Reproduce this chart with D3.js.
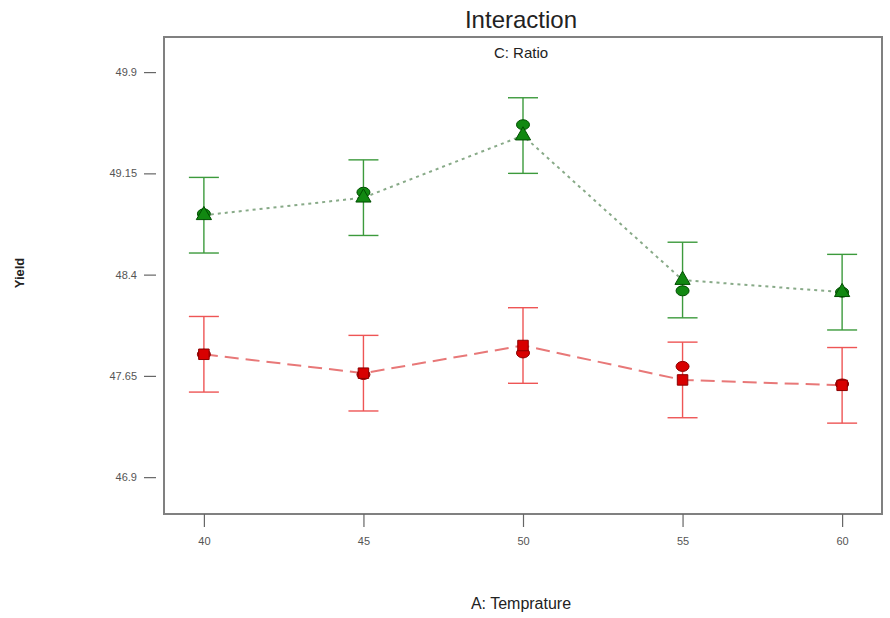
<!DOCTYPE html>
<html>
<head>
<meta charset="utf-8">
<script src="https://cdn.jsdelivr.net/npm/d3@7"></script>
<style>
  body { margin: 0; background: #fff; }
  svg { display: block; font-family: "Liberation Sans", Arial, sans-serif; }
</style>
</head>
<body>
<div id="chart"></div>
<script>
// Interaction plot — Yield vs A: Temprature, two levels of C: Ratio
const temps = [40, 45, 50, 55, 60];
const yTicks = [46.9, 47.65, 48.4, 49.15, 49.9];

// high ratio (green, triangles + dotted line)
const greenPred = [48.84, 48.97, 49.43, 48.36, 48.27];
const greenObs = [48.85, 49.01, 49.51, 48.28, 48.27];
// low ratio (red, squares + dashed line)
const redPred = [47.81, 47.67, 47.875, 47.62, 47.58];
const redObs = [47.81, 47.66, 47.82, 47.72, 47.59];
// LSD half width
const lsd = [0.28, 0.28, 0.28, 0.28, 0.28];

(function () {
  const W = 890, H = 618;
  const margin = { top: 37, right: 8, bottom: 104, left: 164 };
  const width = W - margin.left - margin.right;
  const height = H - margin.top - margin.bottom;

  const svg = d3.select("#chart").append("svg")
    .attr("width", W).attr("height", H);

  const g = svg.append("g")
    .attr("transform", `translate(${margin.left},${margin.top})`);

  const x = d3.scaleLinear().domain([38.75, 61.25]).range([0, width]);
  const y = d3.scaleLinear().domain([46.627, 50.16]).range([height, 0]);

  // frame
  g.append("rect")
    .attr("width", width).attr("height", height)
    .attr("fill", "none").attr("stroke", "#808080").attr("stroke-width", 2);

  // axes
  const xAxis = g.append("g")
    .attr("transform", `translate(0,${height})`)
    .call(d3.axisBottom(x).tickValues(temps).tickSize(13).tickPadding(10).tickFormat(d3.format("d")));
  xAxis.select(".domain").remove();
  xAxis.selectAll("line").attr("stroke", "#666").attr("stroke-width", 1.2);
  xAxis.selectAll("text").attr("font-size", "11px").attr("fill", "#555");

  const yAxis = g.append("g")
    .call(d3.axisLeft(y).tickValues(yTicks).tickSize(20).tickPadding(7).tickFormat(d => d));
  yAxis.select(".domain").remove();
  yAxis.selectAll("line").attr("stroke", "#666").attr("stroke-width", 1.2)
    .attr("x2", -20).attr("x1", -8);
  yAxis.selectAll("text").attr("font-size", "11px").attr("fill", "#555").attr("x", -27);

  // titles
  svg.append("text").attr("x", 521).attr("y", 28).attr("text-anchor", "middle")
    .attr("font-size", "24px").attr("fill", "#222").text("Interaction");
  svg.append("text").attr("x", 521).attr("y", 58).attr("text-anchor", "middle")
    .attr("font-size", "15px").attr("fill", "#222").text("C: Ratio");
  svg.append("text").attr("x", 521).attr("y", 609).attr("text-anchor", "middle")
    .attr("font-size", "16px").attr("fill", "#222").text("A: Temprature");
  svg.append("text")
    .attr("transform", "translate(24,273) rotate(-90)")
    .attr("text-anchor", "middle")
    .attr("font-size", "13px").attr("font-weight", "bold").attr("fill", "#222").text("Yield");

  function drawSeries(pred, obs, opts) {
    const pts = temps.map((t, i) => ({ t, p: pred[i], o: obs[i], e: lsd[i] }));

    // error bars
    const eb = g.append("g").attr("stroke", opts.barColor).attr("stroke-width", 1.4);
    pts.forEach(d => {
      eb.append("line").attr("x1", x(d.t)).attr("x2", x(d.t))
        .attr("y1", y(d.p + d.e)).attr("y2", y(d.p - d.e));
      eb.append("line").attr("x1", x(d.t) - 15).attr("x2", x(d.t) + 15)
        .attr("y1", y(d.p + d.e)).attr("y2", y(d.p + d.e));
      eb.append("line").attr("x1", x(d.t) - 15).attr("x2", x(d.t) + 15)
        .attr("y1", y(d.p - d.e)).attr("y2", y(d.p - d.e));
    });

    // prediction line
    g.append("path")
      .datum(pts)
      .attr("fill", "none")
      .attr("stroke", opts.lineColor)
      .attr("stroke-width", 2)
      .attr("stroke-dasharray", opts.dash)
      .attr("d", d3.line().x(d => x(d.t)).y(d => y(d.p)));

    // observed design points
    g.selectAll(null).data(pts).join("ellipse")
      .attr("cx", d => x(d.t)).attr("cy", d => y(d.o))
      .attr("rx", 6.5).attr("ry", 5)
      .attr("fill", opts.markColor).attr("stroke", opts.markStroke).attr("stroke-width", 1);

    // predicted markers
    g.selectAll(null).data(pts).join("path")
      .attr("transform", d => `translate(${x(d.t)},${y(d.p)})`)
      .attr("d", d3.symbol().type(opts.symbol).size(opts.size))
      .attr("fill", opts.markColor).attr("stroke", opts.markStroke).attr("stroke-width", 1);
  }

  drawSeries(redPred, redObs, {
    barColor: "#ee5555", lineColor: "#e87878", dash: "14,7",
    markColor: "#d80000", markStroke: "#8a0000", symbol: d3.symbolSquare, size: 110
  });
  drawSeries(greenPred, greenObs, {
    barColor: "#3c9a3c", lineColor: "#88aa88", dash: "3,4",
    markColor: "#118811", markStroke: "#004d00", symbol: d3.symbolTriangle, size: 100
  });
})();
</script>
</body>
</html>
